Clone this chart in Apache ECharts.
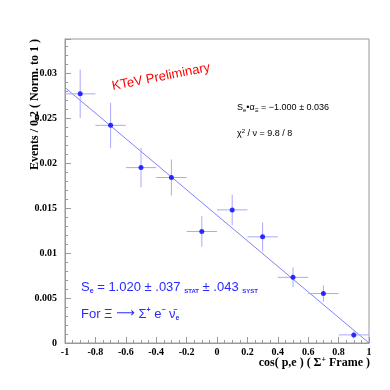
<!DOCTYPE html>
<html>
<head>
<meta charset="utf-8">
<script src="https://cdn.jsdelivr.net/npm/echarts@6/dist/echarts.min.js"></script>
<style>
html,body{margin:0;padding:0;background:#fff;}
#chart{width:390px;height:390px;}
</style>
</head>
<body>
<div id="chart"></div>
<script>
// bin centres, values and vertical errors
var binX = [-0.9, -0.7, -0.5, -0.3, -0.1, 0.1, 0.3, 0.5, 0.7, 0.9];
var binY = [0.0277, 0.0242, 0.0195, 0.0184, 0.0124, 0.0148, 0.0118, 0.0073, 0.0055, 0.0009];
var binErr = [0.0027, 0.0025, 0.0022, 0.0020, 0.0017, 0.0017, 0.0016, 0.0011, 0.0009, 0.0004];
var binHalf = 0.1;
// straight line fit
var fitX = [-1, 1];
var fitY = [0.0284, 0];

var serif = '"Liberation Serif", "DejaVu Serif", serif';
var sans = '"Liberation Sans", Arial, sans-serif';
var frame = '#9a9a9a';
var errCol = '#a8a8ff';

var pts = [], errs = [], fit = [];
for (var i = 0; i < binX.length; i++) {
  pts.push([binX[i], binY[i]]);
  errs.push([binX[i], binY[i], binErr[i]]);
}
for (var j = 0; j < fitX.length; j++) fit.push([fitX[j], fitY[j]]);

function renderErr(params, api) {
  var x = api.value(0), y = api.value(1), e = api.value(2);
  var l = api.coord([x - binHalf, y]), r = api.coord([x + binHalf, y]);
  var t = api.coord([x, y + e]), b = api.coord([x, y - e]);
  var st = {stroke: errCol, lineWidth: 1};
  return {type: 'group', children: [
    {type: 'line', shape: {x1: l[0], y1: l[1], x2: r[0], y2: r[1]}, style: st},
    {type: 'line', shape: {x1: t[0], y1: t[1], x2: b[0], y2: b[1]}, style: st}
  ]};
}

var myChart = echarts.init(document.getElementById('chart'));
var option = {
  animation: false,
  backgroundColor: '#fff',
  grid: {left: 65, right: 21, top: 39, bottom: 47, show: true, borderColor: frame, borderWidth: 1},
  xAxis: {
    type: 'value', min: -1, max: 1, interval: 0.2,
    axisLine: {onZero: false, lineStyle: {color: frame}},
    axisTick: {inside: true, length: 6, lineStyle: {color: frame}},
    minorTick: {show: true, splitNumber: 4, length: 3, lineStyle: {color: frame}},
    splitLine: {show: false},
    axisLabel: {color: '#000', fontFamily: serif, fontWeight: 'bold', fontSize: 10, margin: 4}
  },
  yAxis: {
    type: 'value', min: 0, max: 0.0338, interval: 0.005,
    axisLine: {show: true, onZero: false, lineStyle: {color: frame}},
    axisTick: {show: true, inside: true, length: 6, lineStyle: {color: frame}},
    minorTick: {show: true, splitNumber: 5, length: 3, lineStyle: {color: frame}},
    splitLine: {show: false},
    axisLabel: {color: '#000', fontFamily: serif, fontWeight: 'bold', fontSize: 10, margin: 8, showMaxLabel: false}
  },
  series: [
    {type: 'line', data: fit, symbol: 'none', lineStyle: {color: '#8080ff', width: 1}, z: 1},
    {type: 'custom', data: errs, renderItem: renderErr, z: 2},
    {type: 'scatter', data: pts, symbol: 'circle', symbolSize: 5, itemStyle: {color: '#0000ff'}, z: 3}
  ],
  graphic: [
    {type: 'text', x: 35, y: 39, rotation: Math.PI / 2,
      style: {text: 'Events / 0.2 ( Norm. to 1 )', font: 'bold 12px ' + serif, fill: '#000',
        align: 'right', verticalAlign: 'middle'}},
    {type: 'text', x: 370, y: 363,
      style: {text: '{a|cos( p,e ) ( Σ}{s|+}{a| Frame )}', align: 'right', verticalAlign: 'middle',
        rich: {a: {font: 'bold 12px ' + serif, fill: '#000', lineHeight: 14},
          s: {font: 'bold 8px ' + serif, fill: '#000', verticalAlign: 'top', lineHeight: 14}}}},
    {type: 'text', x: 161, y: 77, rotation: 11 * Math.PI / 180,
      style: {text: 'KTeV Preliminary', font: '13px ' + sans, fill: '#ff0000',
        align: 'center', verticalAlign: 'middle'}},
    {type: 'text', x: 237, y: 108,
      style: {text: '{a|S}{s|e}{a|•α}{s|Ξ}{a| = −1.000 ± 0.036}', verticalAlign: 'middle',
        rich: {a: {font: '9px ' + sans, fill: '#000', lineHeight: 11},
          s: {font: '6px ' + sans, fill: '#000', verticalAlign: 'bottom', lineHeight: 11}}}},
    {type: 'text', x: 237, y: 134,
      style: {text: '{a|χ}{s|2}{a| / ν = 9.8 / 8}', verticalAlign: 'middle',
        rich: {a: {font: '9px ' + sans, fill: '#000', lineHeight: 11},
          s: {font: '6px ' + sans, fill: '#000', verticalAlign: 'top', lineHeight: 11}}}},
    {type: 'text', x: 81, y: 287,
      style: {text: '{a|S}{s|e}{a| = 1.020 ± .037 }{t|STAT}{a| ± .043 }{t|SYST}', verticalAlign: 'middle',
        rich: {a: {font: '13px ' + sans, fill: '#2a2aff', lineHeight: 15},
          s: {font: 'bold 7px ' + sans, fill: '#2a2aff', verticalAlign: 'bottom', lineHeight: 15},
          t: {font: 'bold 6px ' + sans, fill: '#2a2aff', verticalAlign: 'bottom', lineHeight: 14}}}},
    {type: 'text', x: 81, y: 314,
      style: {text: '{a|For Ξ }{r|⟶}{a| Σ}{p|+}{a| e}{p|−}{a| ν̄}{s|e}', verticalAlign: 'middle',
        rich: {a: {font: '13px ' + sans, fill: '#2a2aff', lineHeight: 15},
          r: {font: '13px "DejaVu Sans", sans-serif', fill: '#2a2aff', lineHeight: 15},
          p: {font: 'bold 7px ' + sans, fill: '#2a2aff', verticalAlign: 'top', lineHeight: 15},
          s: {font: 'bold 7px ' + sans, fill: '#2a2aff', verticalAlign: 'bottom', lineHeight: 15}}}}
  ]
};
myChart.setOption(option);
</script>
</body>
</html>
